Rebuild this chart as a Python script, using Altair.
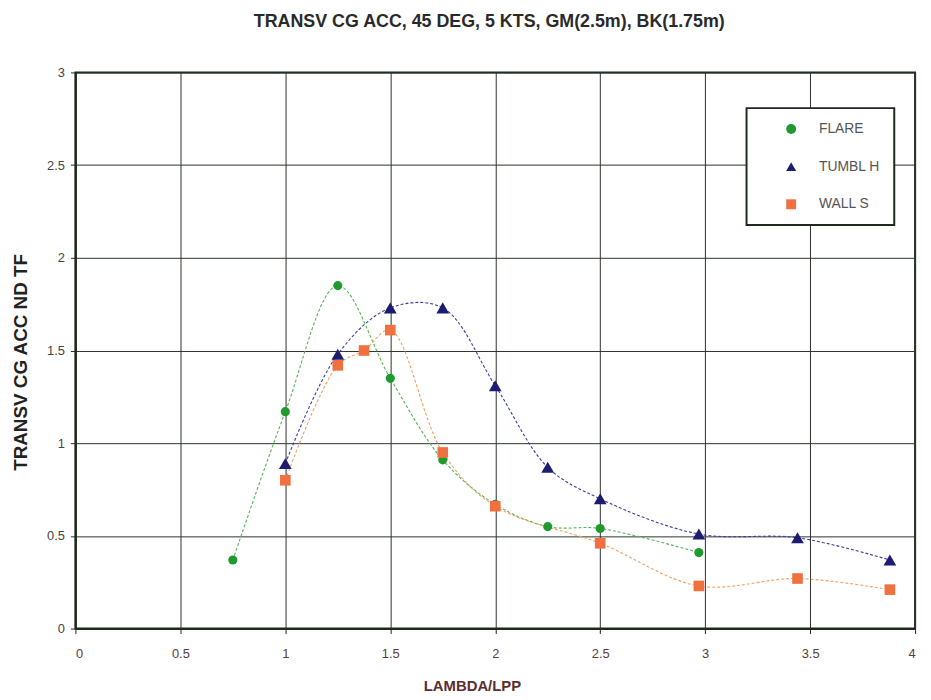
import altair as alt
import pandas as pd

# ---- data ----
series_names = ["FLARE", "TUMBL H", "WALL S"]

flare_x = [0.75, 1.0, 1.25, 1.5, 1.75, 2.0, 2.25, 2.5, 2.97]
flare_y = [0.37, 1.17, 1.85, 1.35, 0.91, 0.67, 0.55, 0.54, 0.41]

tumbl_x = [1.0, 1.25, 1.5, 1.75, 2.0, 2.25, 2.5, 2.97, 3.44, 3.88]
tumbl_y = [0.89, 1.48, 1.73, 1.73, 1.31, 0.87, 0.70, 0.51, 0.49, 0.37]

wall_x = [1.0, 1.25, 1.375, 1.5, 1.75, 2.0, 2.5, 2.97, 3.44, 3.88]
wall_y = [0.80, 1.42, 1.50, 1.61, 0.95, 0.66, 0.46, 0.23, 0.27, 0.21]

x_ticks = [0, 0.5, 1, 1.5, 2, 2.5, 3, 3.5, 4]
y_ticks = [0, 0.5, 1, 1.5, 2, 2.5, 3]

point_colors = ["#1f9a2e", "#1c1c70", "#f0703f"]
line_colors = ["#55b355", "#3c3ca0", "#f4a060"]
shapes = ["circle", "triangle-up", "square"]

rows = []
for name, xs, ys in [("FLARE", flare_x, flare_y), ("TUMBL H", tumbl_x, tumbl_y), ("WALL S", wall_x, wall_y)]:
    for i, (x, y) in enumerate(zip(xs, ys)):
        rows.append({"series": name, "lam": x, "acc": y, "order": i})
df = pd.DataFrame(rows)

x_enc = alt.X(
    "lam:Q",
    scale=alt.Scale(domain=[0, 4], nice=False),
    axis=alt.Axis(
        values=x_ticks, format="~g", title="LAMBDA/LPP",
        titleX=400, titleY=57, titleAlign="center", titleBaseline="middle",
        titleFontSize=15, titleFontWeight="bold", titleColor="#5a2e2e",
        labelColor="#5b3b3b", labelFontSize=13, labelPadding=14,
    ),
)
y_enc = alt.Y(
    "acc:Q",
    scale=alt.Scale(domain=[0, 3], nice=False),
    axis=alt.Axis(
        values=y_ticks, format="~g", title="TRANSV CG ACC ND TF",
        titleX=-55, titleY=292, titleAngle=270, titleAlign="center", titleBaseline="middle",
        titleFontSize=19, titleFontWeight="bold", titleColor="#222222",
        labelColor="#444444", labelFontSize=13, labelPadding=6,
    ),
)

base = alt.Chart(df)

line_layers = [
    base.transform_filter(alt.datum.series == name).mark_line(
        interpolate="catmull-rom", strokeDash=[3, 2], strokeWidth=1.1, color=col
    ).encode(x=x_enc, y=y_enc, order="order:Q")
    for name, col in zip(series_names, line_colors)
]

points = base.mark_point(
    filled=True, opacity=1,
    size=alt.expr("datum.series == 'TUMBL H' ? 165 : (datum.series == 'WALL S' ? 115 : 85)"),
).encode(
    x=x_enc, y=y_enc,
    color=alt.Color(
        "series:N", scale=alt.Scale(domain=series_names, range=point_colors),
        legend=alt.Legend(title=None),
    ),
    shape=alt.Shape(
        "series:N", scale=alt.Scale(domain=series_names, range=shapes),
        legend=alt.Legend(title=None),
    ),
)

chart = alt.layer(*line_layers, points).properties(
    width=847, height=561,
    background="white",
    autosize=alt.AutoSizeParams(type="none"),
    padding={"left": 68, "top": 62, "right": 8, "bottom": 62},
    title=alt.TitleParams(
        "TRANSV CG ACC, 45 DEG, 5 KTS, GM(2.5m), BK(1.75m)",
        fontSize=18, fontWeight="bold", color="#2a2a2a", font="Liberation Sans",
        anchor="middle", baseline="alphabetic", offset=22, dx=-6,
    ),
).configure_view(
    stroke="#1c2a1c", strokeWidth=2
).configure_axis(
    grid=True, gridColor="#2a332a", gridWidth=1, gridOpacity=1,
    domainColor="#1c2a1c", domainWidth=2,
    tickColor="#1c2a1c", tickSize=5, tickWidth=1,
    labelFont="Liberation Sans", titleFont="Liberation Sans",
).configure_legend(
    orient="none", legendX=677, legendY=36,
    padding=14, rowPadding=24, symbolOffset=24, labelOffset=21,
    strokeColor="#1e2a1e", strokeWidth=2, fillColor="white",
    labelFont="Liberation Sans", labelFontSize=14, labelColor="#555555",
    symbolSize=100,
)

chart.save("out.html", embed_options={"renderer": "svg", "actions": False})
